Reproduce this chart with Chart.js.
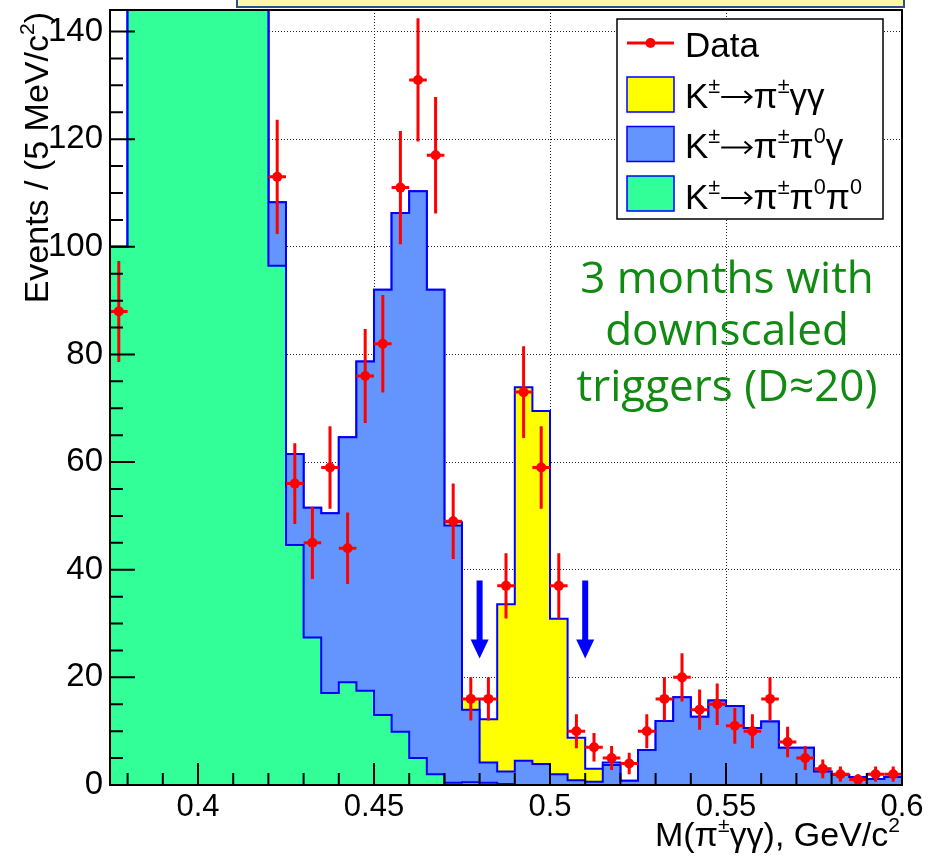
<!DOCTYPE html>
<html>
<head>
<meta charset="utf-8">
<script src="https://cdn.jsdelivr.net/npm/chart.js@4.4.1/dist/chart.umd.min.js"></script>
<style>
  html, body { margin: 0; padding: 0; background: #fff; }
  #wrap { width: 934px; height: 862px; position: relative; }
</style>
</head>
<body>
<div id="wrap"><canvas id="kChart"></canvas></div>
<script>
// histogram binning: 5 MeV bins from 0.375 to 0.6 GeV/c2
const binLow = 0.375;
const binWidth = 0.005;
const nBins = 45;

// K+- -> pi+- pi0 pi0 (green), bins 1..8 go off the top of the frame
const k3pi = [100, 190, 430, 780, 990, 920, 660, 390, 215, 96.5,
  44.6, 27.4, 17.1, 19.1, 17.5, 13.0, 9.9, 5.0, 2.0, 0.4,
  0.5, 0.4, 0.2, 0, 0, 0, 0, 0, 0, 0,
  0, 0, 0, 0, 0, 0, 0, 0, 0, 0,
  0, 0, 0, 0, 0];

// K+- -> pi+- pi0 gamma (blue), stacked on the green one
const kpipi0g = [0, 4, 6, 8, 10, 10, 9, 8, 10, 11.8,
  16.9, 24.1, 33.4, 45.5, 61.2, 79.0, 96.4, 105.3, 90.0, 47.8,
  13.5, 3.8, 2.3, 4.5, 3.9, 2.0, 0.9, 0.6, 3.7, 0.8,
  6.5, 11.9, 16.3, 12.7, 15.7, 14.7, 10.6, 11.8, 6.9, 6.9,
  2.5, 1.9, 1.5, 1.1, 1.5];

// K+- -> pi+- gamma gamma (yellow), on top
const kpigg = [0, 0, 0, 0, 0, 0, 0, 0, 0, 0,
  0, 0, 0, 0, 0, 0, 0, 0, 0, 0.6,
  2.0, 8.0, 31.1, 69.4, 65.6, 28.9, 7.9, 2.4, 0.5, 0,
  0, 0, 0, 0, 0, 0, 0, 0, 0, 0,
  0, 0, 0, 0, 0];

// data counts per bin (bins 1..8 are above the frame)
const dataCounts = [88, null, null, null, null, null, null, null, null, 113,
  56, 45, 59, 44, 76, 82, 111, 131, 117, 49,
  16, 16, 37, 73, 59, 37, 10, 7, 5, 4,
  10, 16, 20, 14, 15, 11, 10, 16, 8, 5,
  3, 2, 1, 2, 2];

// signal region arrows
const arrowX = [0.48, 0.51];
const arrowFrom = 38;
const arrowTo = 23.5;

const xTickLabels = ['0.4', '0.45', '0.5', '0.55', '0.6'];

// rich texts: [text, superscript?]; 'ARROW' is drawn as a long arrow
const legendRows = [
  [['Data']],
  [['K'], ['\u00b1', 1], ['ARROW'], ['\u03c0'], ['\u00b1', 1], ['\u03b3\u03b3']],
  [['K'], ['\u00b1', 1], ['ARROW'], ['\u03c0'], ['\u00b1', 1], ['\u03c0'], ['0', 1], ['\u03b3']],
  [['K'], ['\u00b1', 1], ['ARROW'], ['\u03c0'], ['\u00b1', 1], ['\u03c0'], ['0', 1], ['\u03c0'], ['0', 1]]
];
const xTitle = [['M(\u03c0'], ['\u00b1', 1], ['\u03b3\u03b3), GeV/c'], ['2', 1]];
const yTitle = [['Events / (5 MeV/c'], ['2', 1], [')']];
const note = ['3 months with', 'downscaled', 'triggers (D\u224820)'];

const RED = '#ff0000', LINE = '#0000ff';
const YELLOW = '#ffff00', BLUE = '#6495ff', GREEN = '#33ff99';
const FONT = '"Liberation Sans", Arial, Helvetica, sans-serif';

// cumulative tops of the stack
const greenTop = k3pi.slice();
const blueTop = k3pi.map((v, i) => v + kpipi0g[i]);
const yellowTop = blueTop.map((v, i) => v + kpigg[i]);

function stepPoints(vals) {
  const pts = vals.map((v, i) => ({ x: binLow + i * binWidth, y: v }));
  pts.push({ x: binLow + nBins * binWidth, y: vals[vals.length - 1] });
  return pts;
}
const dataPoints = dataCounts.map((n, i) => ({ x: binLow + (i + 0.5) * binWidth, y: n }));

function drawRich(ctx, parts, x, y, size, align) {
  const sizes = parts.map(p => p[1] ? size * 0.62 : size);
  const widths = parts.map((p, i) => {
    if (p[0] === 'ARROW') return size * 0.95;
    ctx.font = sizes[i] + 'px ' + FONT;
    return ctx.measureText(p[0]).width;
  });
  const total = widths.reduce((a, b) => a + b, 0);
  let cx = align === 'right' ? x - total : x;
  parts.forEach((p, i) => {
    if (p[0] === 'ARROW') {
      const ay = y - size * 0.3, x0 = cx + 1, x1 = cx + widths[i] - 2;
      ctx.save();
      ctx.strokeStyle = ctx.fillStyle; ctx.lineWidth = 2;
      ctx.beginPath();
      ctx.moveTo(x0, ay); ctx.lineTo(x1, ay);
      ctx.moveTo(x1 - 7, ay - 6); ctx.lineTo(x1, ay); ctx.lineTo(x1 - 7, ay + 6);
      ctx.stroke();
      ctx.restore();
    } else {
      ctx.font = sizes[i] + 'px ' + FONT;
      ctx.fillText(p[0], cx, p[1] ? y - size * 0.42 : y);
    }
    cx += widths[i];
  });
}

const rootStyle = {
  id: 'rootStyle',
  beforeDatasetDraw(chart, args) {
    if (args.index !== 0) return;
    const { x, y } = chart.scales;
    const ctx = chart.ctx, a = chart.chartArea;
    ctx.save();
    ctx.beginPath(); ctx.rect(a.left, a.top, a.right - a.left, a.bottom - a.top); ctx.clip();
    ctx.strokeStyle = RED; ctx.lineWidth = 3;
    dataCounts.forEach((n, i) => {
      if (n === null) return;
      const c = x.getPixelForValue(binLow + (i + 0.5) * binWidth);
      const e = Math.sqrt(n);
      ctx.beginPath();
      ctx.moveTo(c, y.getPixelForValue(n - e));
      ctx.lineTo(c, y.getPixelForValue(n + e));
      ctx.moveTo(x.getPixelForValue(binLow + i * binWidth), y.getPixelForValue(n));
      ctx.lineTo(x.getPixelForValue(binLow + (i + 1) * binWidth), y.getPixelForValue(n));
      ctx.stroke();
    });
    ctx.restore();
  },
  afterDatasetsDraw(chart) {
    const { x, y } = chart.scales;
    const ctx = chart.ctx, a = chart.chartArea;
    ctx.save();

    // arrows
    ctx.strokeStyle = LINE; ctx.fillStyle = LINE; ctx.lineWidth = 6;
    arrowX.forEach(v => {
      const ax = x.getPixelForValue(v), y0 = y.getPixelForValue(arrowFrom), y1 = y.getPixelForValue(arrowTo);
      ctx.beginPath(); ctx.moveTo(ax, y0); ctx.lineTo(ax, y1 - 16); ctx.stroke();
      ctx.beginPath(); ctx.moveTo(ax - 9, y1 - 19); ctx.lineTo(ax + 9, y1 - 19); ctx.lineTo(ax, y1); ctx.closePath(); ctx.fill();
    });

    // frame and inward ticks
    ctx.strokeStyle = '#000'; ctx.lineWidth = 2;
    ctx.strokeRect(a.left, a.top, a.right - a.left, a.bottom - a.top);
    ctx.beginPath();
    for (let k = 38; k <= 59; k++) {
      const px = x.getPixelForValue(k / 100);
      const len = k % 5 === 0 ? 22 : 12;
      ctx.moveTo(px, a.bottom); ctx.lineTo(px, a.bottom - len);
    }
    for (let v = 5; v <= 140; v += 5) {
      const py = y.getPixelForValue(v);
      const len = v % 20 === 0 ? 25 : 13;
      ctx.moveTo(a.left, py); ctx.lineTo(a.left + len, py);
    }
    ctx.stroke();

    // legend
    ctx.fillStyle = '#fff'; ctx.fillRect(617, 19, 266, 200);
    ctx.lineWidth = 1.5; ctx.strokeRect(617, 19, 266, 200);
    ctx.strokeStyle = RED; ctx.lineWidth = 3;
    ctx.beginPath(); ctx.moveTo(627, 43); ctx.lineTo(674, 43); ctx.stroke();
    ctx.fillStyle = RED; ctx.beginPath(); ctx.arc(650.5, 43, 5, 0, Math.PI * 2); ctx.fill();
    [YELLOW, BLUE, GREEN].forEach((c, i) => {
      const top = 77 + i * 49.5;
      ctx.fillStyle = c; ctx.fillRect(627, top, 47, 35);
      ctx.strokeStyle = LINE; ctx.lineWidth = 1.5; ctx.strokeRect(627, top, 47, 35);
    });
    ctx.fillStyle = '#000'; ctx.textBaseline = 'alphabetic';
    legendRows.forEach((row, i) => drawRich(ctx, row, 685, 57 + i * 50.5, 35, 'left'));

    // note
    ctx.fillStyle = '#108a10'; ctx.textAlign = 'center';
    ctx.font = '44px "Comic Sans MS", "Open Sans", sans-serif';
    [293, 345, 401].forEach((b, i) => ctx.fillText(note[i], 727, b));
    ctx.textAlign = 'left';

    // axis titles
    ctx.fillStyle = '#000';
    drawRich(ctx, xTitle, 900, 846, 34, 'right');
    ctx.save(); ctx.translate(48, 12); ctx.rotate(-Math.PI / 2);
    drawRich(ctx, yTitle, 0, 0, 34, 'right');
    ctx.restore();

    // clipped title box at top
    ctx.fillStyle = '#fdf9a6'; ctx.fillRect(237, -10, 667, 17);
    ctx.strokeStyle = '#2c4f8c'; ctx.lineWidth = 2; ctx.strokeRect(237, -10, 667, 17);
    ctx.restore();
  }
};

const histo = (label, pts, fillColor) => ({
  label, data: pts, stepped: true, fill: 'origin', backgroundColor: fillColor,
  borderColor: LINE, borderWidth: 2, pointRadius: 0, borderJoinStyle: 'miter'
});

new Chart(document.getElementById('kChart'), {
  type: 'line',
  data: {
    datasets: [
      { label: 'Data', data: dataPoints, showLine: false, pointRadius: 5, pointHoverRadius: 5,
        pointBackgroundColor: RED, pointBorderWidth: 0, borderColor: RED },
      histo('K\u00b1\u2192\u03c0\u00b1\u03c00\u03c00', stepPoints(greenTop), GREEN),
      histo('K\u00b1\u2192\u03c0\u00b1\u03c00\u03b3', stepPoints(blueTop), BLUE),
      histo('K\u00b1\u2192\u03c0\u00b1\u03b3\u03b3', stepPoints(yellowTop), YELLOW)
    ]
  },
  options: {
    responsive: true,
    maintainAspectRatio: false,
    animation: false,
    layout: { padding: { top: 10, right: 32, left: 0, bottom: 0 } },
    plugins: { legend: { display: false }, tooltip: { enabled: false } },
    scales: {
      x: {
        type: 'linear', min: 0.375, max: 0.6,
        afterBuildTicks: s => { s.ticks = xTickLabels.map(t => ({ value: +t })); },
        afterFit: s => { s.height = 77; s.paddingLeft = 0; s.paddingRight = 0; },
        grid: { color: '#222', lineWidth: 1, drawTicks: false },
        border: { display: false, dash: [1, 2] },
        ticks: {
          autoSkip: false, maxRotation: 0, padding: 4,
          color: '#000', font: { family: FONT, size: 31 },
          callback: (v) => xTickLabels.find(t => Math.abs(+t - v) < 1e-6) || ''
        }
      },
      y: {
        min: 0, max: 144,
        afterFit: s => { s.width = 110; s.paddingTop = 0; s.paddingBottom = 0; },
        grid: { color: '#222', lineWidth: 1, drawTicks: false },
        border: { display: false, dash: [1, 2] },
        ticks: { stepSize: 20, includeBounds: false, padding: 7, color: '#000', font: { family: FONT, size: 33 } }
      }
    }
  },
  plugins: [rootStyle]
});
</script>
</body>
</html>
